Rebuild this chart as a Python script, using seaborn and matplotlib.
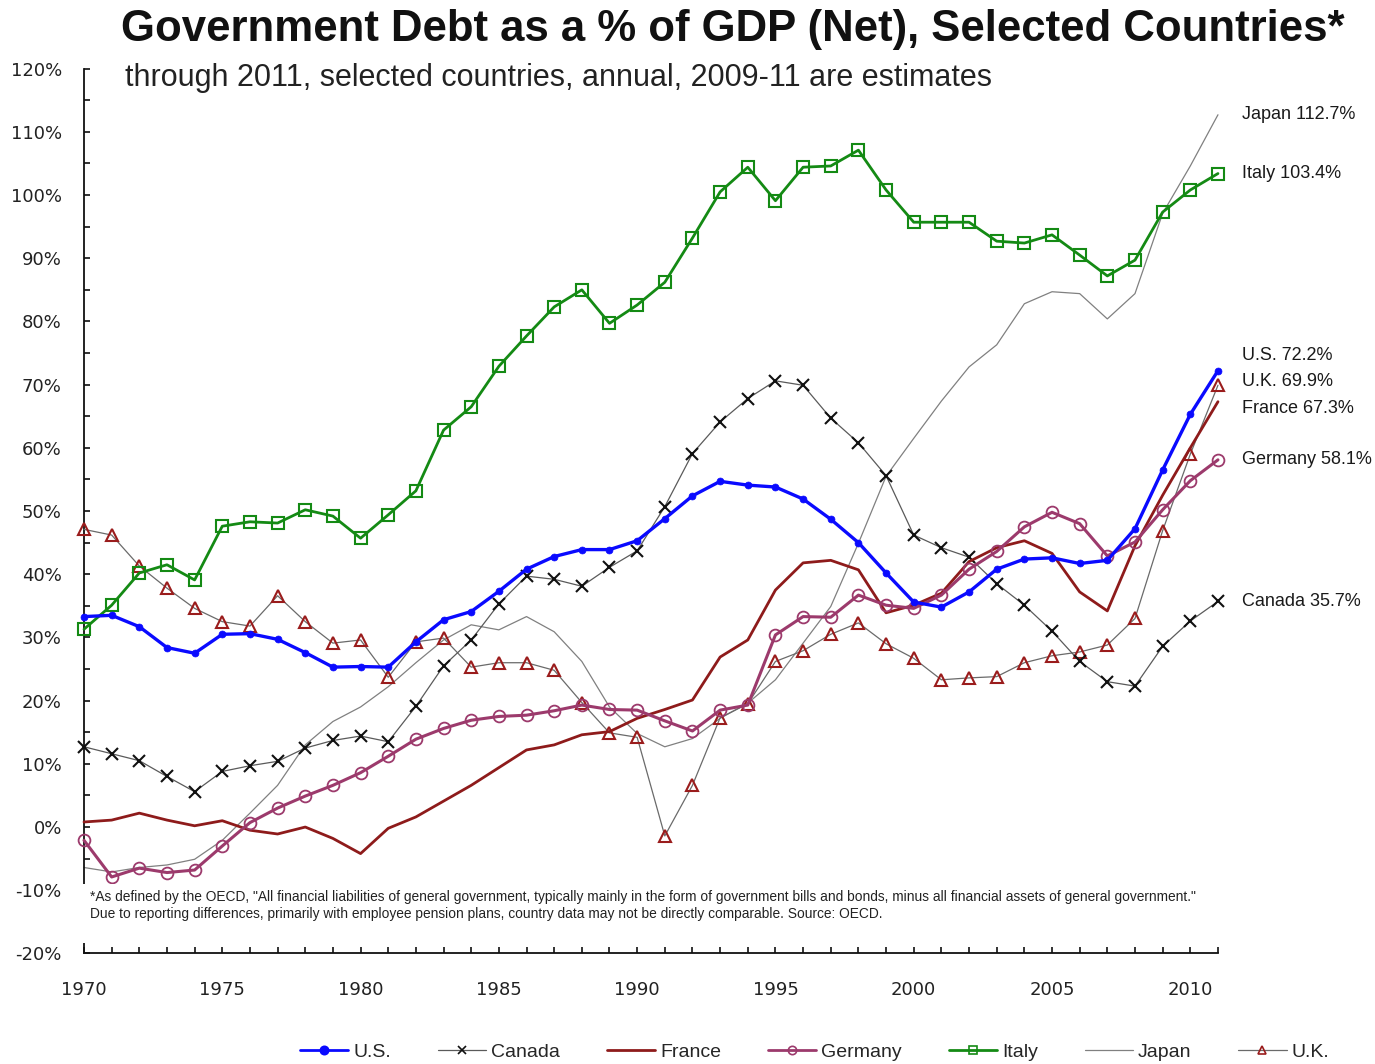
import matplotlib
matplotlib.use("Agg")
import matplotlib.pyplot as plt
import numpy as np
import pandas as pd
import seaborn as sns
from matplotlib.lines import Line2D
from matplotlib.patches import Rectangle
from matplotlib.ticker import MultipleLocator, FuncFormatter

# ---- data: net government debt, % of GDP, 1970-2011 ----
years = list(range(1970, 2012))

us = [33.3, 33.5, 31.7, 28.4, 27.5, 30.5, 30.6, 29.7, 27.6, 25.3,
      25.4, 25.3, 29.3, 32.8, 34.1, 37.3, 40.8, 42.8, 43.9, 43.9,
      45.3, 48.8, 52.4, 54.7, 54.1, 53.8, 51.9, 48.7, 45.0, 40.2,
      35.6, 34.8, 37.2, 40.8, 42.4, 42.6, 41.7, 42.2, 47.2, 56.5,
      65.3, 72.2]

canada = [12.7, 11.6, 10.5, 8.0, 5.6, 8.8, 9.7, 10.4, 12.5, 13.7,
          14.4, 13.5, 19.1, 25.5, 29.6, 35.3, 39.7, 39.2, 38.1, 41.1,
          43.7, 50.7, 59.1, 64.1, 67.8, 70.6, 69.9, 64.7, 60.8, 55.6,
          46.2, 44.2, 42.7, 38.5, 35.1, 31.0, 26.2, 23.0, 22.3, 28.6,
          32.6, 35.7]

france = [0.8, 1.1, 2.2, 1.1, 0.2, 1.0, -0.5, -1.1, 0.0, -1.8,
          -4.2, -0.2, 1.6, 4.1, 6.6, 9.4, 12.2, 13.0, 14.6, 15.1,
          17.2, 18.6, 20.1, 26.9, 29.6, 37.5, 41.8, 42.2, 40.7, 33.9,
          35.1, 37.0, 42.0, 44.2, 45.3, 43.3, 37.2, 34.2, 44.5, 52.5,
          60.0, 67.3]

germany = [-2.1, -7.9, -6.5, -7.2, -6.8, -3.0, 0.7, 3.0, 4.9, 6.6,
           8.6, 11.2, 13.9, 15.6, 16.9, 17.5, 17.7, 18.4, 19.3, 18.6,
           18.5, 16.8, 15.2, 18.5, 19.3, 30.4, 33.3, 33.2, 36.7, 35.1,
           34.6, 36.7, 40.8, 43.6, 47.5, 49.8, 48.0, 42.9, 45.1, 50.2,
           54.8, 58.1]

italy = [31.3, 35.1, 40.2, 41.5, 39.1, 47.6, 48.3, 48.1, 50.2, 49.2,
         45.7, 49.4, 53.2, 62.8, 66.5, 72.9, 77.7, 82.3, 85.0, 79.7,
         82.6, 86.2, 93.2, 100.5, 104.4, 99.1, 104.4, 104.6, 107.1, 100.8,
         95.7, 95.7, 95.7, 92.7, 92.4, 93.7, 90.5, 87.2, 89.7, 97.3,
         100.8, 103.4]

japan = [-6.4, -7.1, -6.4, -6.0, -5.1, -2.1, 2.2, 6.6, 13.0, 16.7,
         19.0, 22.2, 26.0, 29.6, 32.0, 31.2, 33.3, 30.9, 26.2, 19.0,
         14.8, 12.7, 14.0, 17.2, 19.6, 23.3, 29.1, 34.9, 44.9, 55.5,
         61.5, 67.4, 72.8, 76.3, 82.8, 84.7, 84.4, 80.4, 84.4, 97.1,
         104.6, 112.7]

uk = [47.1, 46.2, 41.3, 37.8, 34.6, 32.5, 31.8, 36.6, 32.5, 29.1,
      29.6, 23.7, 29.3, 29.9, 25.3, 26.0, 26.0, 24.8, 19.7, 14.9,
      14.2, -1.4, 6.6, 17.3, 19.5, 26.2, 27.9, 30.5, 32.3, 29.0,
      26.7, 23.3, 23.6, 23.8, 26.0, 27.1, 27.7, 28.8, 33.0, 46.9,
      59.0, 69.9]

countries = ["U.S.", "Canada", "France", "Germany", "Italy", "Japan", "U.K."]
series = [us, canada, france, germany, italy, japan, uk]

# label text next to each 2011 end point
end_labels = ["U.S. 72.2%", "Canada 35.7%", "France 67.3%", "Germany 58.1%",
              "Italy 103.4%", "Japan 112.7%", "U.K. 69.9%"]

df = pd.DataFrame({
    "year": np.tile(years, len(countries)),
    "debt": np.concatenate(series),
    "country": np.repeat(countries, len(years)),
})

# ---- styles ----
styles = {
    "Japan":   dict(color="#808080", linewidth=0.9, marker=None, zorder=2),
    "U.K.":    dict(color="#6a6a6a", linewidth=0.9, marker="^", markersize=8.5,
                    markerfacecolor="none", markeredgecolor="#9a1c1c",
                    markeredgewidth=1.5, zorder=3),
    "Canada":  dict(color="#5a5a5a", linewidth=0.9, marker="x", markersize=8.5,
                    markerfacecolor="none", markeredgecolor="#111111",
                    markeredgewidth=1.5, zorder=4),
    "France":  dict(color="#8e1b1b", linewidth=2.0, marker=None, zorder=5),
    "Germany": dict(color="#9c3a6c", linewidth=2.2, marker="o", markersize=8.5,
                    markerfacecolor="none", markeredgecolor="#9c3a6c",
                    markeredgewidth=1.3, zorder=6),
    "Italy":   dict(color="#148a14", linewidth=2.0, marker="s", markersize=8.5,
                    markerfacecolor="none", markeredgecolor="#148a14",
                    markeredgewidth=1.5, zorder=7),
    "U.S.":    dict(color="#0a0aff", linewidth=2.4, marker="o", markersize=5,
                    markerfacecolor="#0a0aff", markeredgecolor="#0a0aff",
                    markeredgewidth=0.5, zorder=8),
}

# label nudges (points) for the right-hand annotations
label_dy = {"U.S.": 11, "Canada": 0, "France": -5, "Germany": 0,
            "Italy": 0, "Japan": 0, "U.K.": 3}

sns.set_style("white")
plt.rcParams["font.family"] = ["Liberation Sans", "DejaVu Sans"]

fig = plt.figure(figsize=(13.75, 10.64), dpi=100)
ax = fig.add_axes([0.06109, 0.1039, 0.8247, 0.8316])

draw_order = ["Japan", "U.K.", "Canada", "France", "Germany", "Italy", "U.S."]
for name in draw_order:
    st = dict(styles[name])
    z = st.pop("zorder")
    mk = st.pop("marker")
    kw = dict(st)
    if mk is not None:
        kw["marker"] = mk
    else:
        kw["markeredgewidth"] = 0
        kw["markeredgecolor"] = st["color"]
    sub = df[df["country"] == name]
    sns.lineplot(data=sub, x="year", y="debt", ax=ax, estimator=None,
                 errorbar=None, sort=True, legend=False, zorder=z, **kw)

for ln in ax.lines:
    ln.set_clip_on(False)

# ---- axes ----
ax.set_xlim(1970, 2011)
ax.set_ylim(-20, 120)
ax.set_xlabel("")
ax.set_ylabel("")
for side in ("top", "right"):
    ax.spines[side].set_visible(False)
for side in ("left", "bottom"):
    ax.spines[side].set_color("#111111")
    ax.spines[side].set_linewidth(1.3)

ax.xaxis.set_major_locator(MultipleLocator(5))
ax.xaxis.set_minor_locator(MultipleLocator(1))
ax.yaxis.set_major_locator(MultipleLocator(10))
ax.yaxis.set_minor_locator(MultipleLocator(5))
ax.yaxis.set_major_formatter(FuncFormatter(lambda v, p: f"{int(round(v))}%"))
ax.xaxis.set_major_formatter(FuncFormatter(lambda v, p: f"{int(round(v))}"))

ax.tick_params(axis="x", which="both", direction="in", length=4, width=1.2,
               color="#111111", bottom=True)
ax.tick_params(axis="x", which="major", pad=20, labelsize=13,
               labelcolor="#222222")
ax.tick_params(axis="y", which="both", direction="in", length=4.5, width=1.2,
               color="#111111", left=True)
ax.tick_params(axis="y", which="major", pad=16, labelsize=13,
               labelcolor="#222222")
for lab in ax.get_xticklabels() + ax.get_yticklabels():
    lab.set_family("DejaVu Sans")
ax.grid(False)

# ---- end-point labels ----
for name, text in zip(countries, end_labels):
    val = series[countries.index(name)][-1]
    ax.annotate(text, xy=(2011, val), xytext=(17, label_dy[name]),
                textcoords="offset points", ha="left", va="center",
                fontsize=13, color="#1a1a1a", annotation_clip=False)

# ---- titles ----
fig.text(733 / 1375, 1 - 29 / 1064,
         "Government Debt as a % of GDP (Net), Selected Countries*",
         ha="center", va="center", fontsize=31.5, fontweight="bold",
         color="#111111")
fig.text(125 / 1375, 1 - 78 / 1064,
         "through 2011, selected countries, annual, 2009-11 are estimates",
         ha="left", va="center", fontsize=22, color="#222222")

# ---- footnote on a white panel over the lower plot area ----
fig.patches.append(Rectangle((82 / 1375, (1064 - 943) / 1064),
                             (1215 - 82) / 1375, (943 - 884) / 1064,
                             transform=fig.transFigure, facecolor="white",
                             edgecolor="none", zorder=1))
fig.text(90 / 1375, 1 - 897 / 1064,
         '*As defined by the OECD, "All financial liabilities of general government, '
         'typically mainly in the form of government bills and bonds, minus all '
         'financial assets of general government."',
         ha="left", va="center", fontsize=9.93, color="#222222", zorder=2)
fig.text(90 / 1375, 1 - 914 / 1064,
         "Due to reporting differences, primarily with employee pension plans, "
         "country data may not be directly comparable. Source: OECD.",
         ha="left", va="center", fontsize=9.93, color="#222222", zorder=2)

# ---- legend ----
handles = []
for name in countries:
    st = styles[name]
    h = Line2D([0], [0], color=st["color"], linewidth=min(st["linewidth"], 2.0),
               marker=st["marker"] if st["marker"] else None,
               markersize=6 if st["marker"] is not None else 0,
               markerfacecolor=st.get("markerfacecolor", "none"),
               markeredgecolor=st.get("markeredgecolor", st["color"]),
               markeredgewidth=1.2)
    handles.append(h)
fig.legend(handles, countries, loc="center", bbox_to_anchor=(0.5924, 0.0113),
           ncol=7, frameon=False, fontsize=14, handlelength=2.5,
           handletextpad=0.25, columnspacing=2.4, borderpad=0)

fig.savefig("out.png", dpi=100)
